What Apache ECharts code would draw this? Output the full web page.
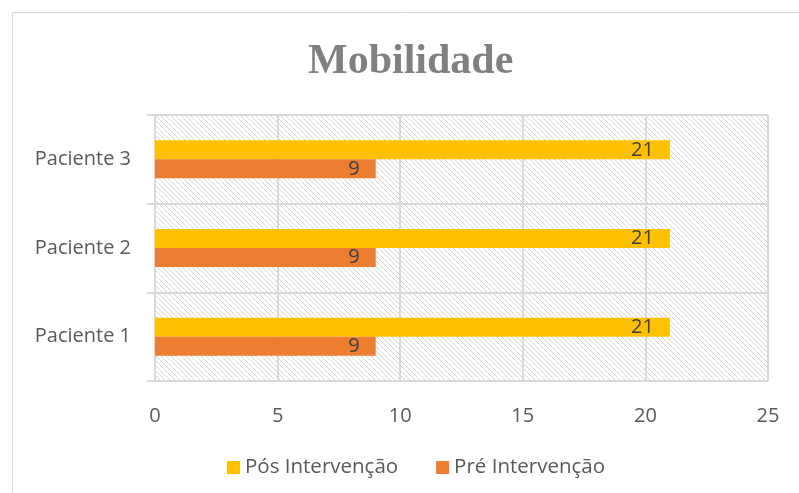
<!DOCTYPE html>
<html>
<head>
<meta charset="utf-8">
<script src="https://cdn.jsdelivr.net/npm/echarts@6/dist/echarts.min.js"></script>
<style>
  html,body{margin:0;padding:0;background:#fff;}
  #main{width:799px;height:493px;}
</style>
</head>
<body>
<div id="main"></div>
<script>
  const categories = ['Paciente 1', 'Paciente 2', 'Paciente 3']
  const posValues = [21, 21, 21]
  const preValues = [9, 9, 9]
  const xTicks = [0, 5, 10, 15, 20, 25]

  // hachura diagonal do fundo da área de plotagem
  function makeHatch() {
    const c = document.createElement('canvas')
    c.width = 5
    c.height = 5
    const ctx = c.getContext('2d')
    ctx.fillStyle = '#d6d6d6'
    for (let i = 0; i < 5; i++) ctx.fillRect(i, i, 1, 1)
    return c
  }

  const font = '"Open Sans", Lato, sans-serif'
  const fs = 20
  const myChart = echarts.init(document.getElementById('main'))

  myChart.setOption({
    animation: false,
    backgroundColor: '#fff',
    graphic: [{
      type: 'rect',
      shape: { x: 12.5, y: 12.5, width: 820, height: 500 },
      style: { fill: 'none', stroke: '#d9d9d9', lineWidth: 1 },
      z: -1
    }],
    title: {
      text: 'Mobilidade',
      left: 303,
      top: 36,
      textStyle: {
        fontFamily: '"Liberation Serif", "DejaVu Serif", serif',
        fontWeight: 'bold',
        fontSize: 42,
        color: '#808080'
      }
    },
    legend: {
      data: ['Pós Intervenção', 'Pré Intervenção'],
      left: 222,
      top: 452,
      icon: 'rect',
      itemWidth: 13,
      itemHeight: 13,
      itemGap: 38,
      textStyle: { fontFamily: font, fontSize: 20.5, color: '#595959' }
    },
    grid: {
      left: 155,
      right: 31,
      top: 115,
      bottom: 112,
      show: true,
      borderWidth: 0,
      backgroundColor: { image: makeHatch(), repeat: 'repeat' }
    },
    xAxis: {
      type: 'value',
      min: xTicks[0],
      max: xTicks[xTicks.length - 1],
      interval: 5,
      axisLine: { show: false },
      axisTick: { show: false },
      axisLabel: {
        margin: 25,
        fontFamily: font,
        fontSize: fs,
        color: '#595959'
      },
      splitLine: { show: true, lineStyle: { color: '#d9d9d9', width: 2 } }
    },
    yAxis: {
      type: 'category',
      data: categories,
      axisLine: { show: true, lineStyle: { color: '#d9d9d9', width: 2 } },
      axisTick: { show: true, length: 8, lineStyle: { color: '#d9d9d9', width: 2 } },
      axisLabel: {
        margin: 24,
        fontFamily: font,
        fontSize: fs,
        color: '#595959'
      },
      splitLine: { show: true, lineStyle: { color: '#d9d9d9', width: 2 } }
    },
    series: [
      {
        name: 'Pós Intervenção',
        type: 'bar',
        data: posValues,
        barWidth: 19,
        barGap: '0%',
        itemStyle: { color: '#FFC000' },
        label: {
          show: true,
          position: 'insideRight',
          distance: 16,
          fontFamily: font,
          fontSize: fs,
          color: '#404040'
        }
      },
      {
        name: 'Pré Intervenção',
        type: 'bar',
        data: preValues,
        barWidth: 19,
        barGap: '0%',
        itemStyle: { color: '#ED7D31' },
        label: {
          show: true,
          position: 'insideRight',
          distance: 16,
          fontFamily: font,
          fontSize: fs,
          color: '#404040'
        }
      }
    ]
  })
</script>
</body>
</html>
